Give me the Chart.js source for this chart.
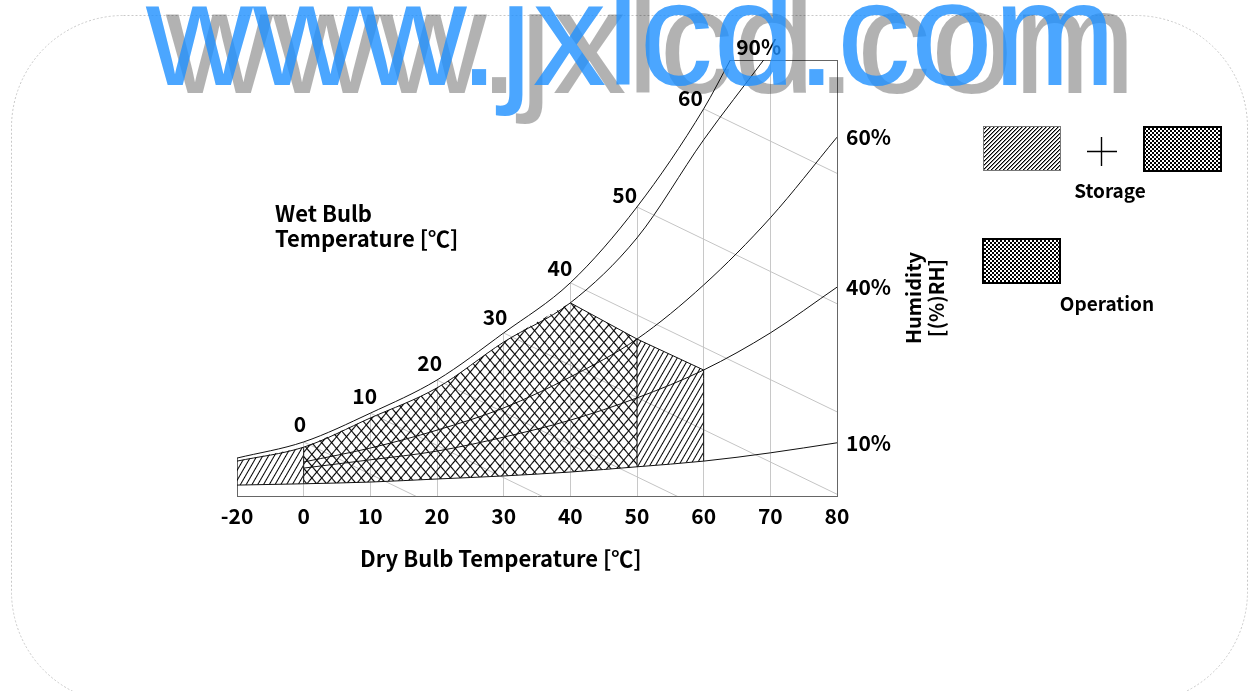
<!DOCTYPE html>
<html>
<head>
<meta charset="utf-8">
<script src="https://cdn.jsdelivr.net/npm/chart.js@4.4.1/dist/chart.umd.min.js"></script>
<style>
  html, body { margin: 0; background: #fff; }
  canvas { display: block; }
</style>
</head>
<body>
<canvas id="psy" width="1249" height="691"></canvas>
<script>
// dry bulb ticks [degC]; the -20..0 band is drawn squeezed into one 10 degree step
const dryBulbTicks = [-20, 0, 10, 20, 30, 40, 50, 60, 70, 80];

// humidity curves, on a 0..100 chart scale (bottom .. top of the plot)
const satTemps = [-20, 0, 10, 20, 30, 40, 50, 60, 64];
const rh100 = [8.7, 12.4, 19.0, 26.6, 37.4, 48.9, 66.3, 88.8, 100];
const rh90Temps = [-20, 0, 10, 20, 30, 40, 50, 60, 69];
const rh90 = [8.0, 11.2, 17.9, 24.8, 35.3, 44.3, 59.2, 81.7, 100];
const rhTemps = [0, 10, 20, 30, 40, 50, 60, 70, 80];
const rh60 = [7.8, 11.0, 15.1, 20.2, 27.3, 36.0, 48.4, 63.8, 82.3];
const rh40 = [6.4, 8.3, 10.3, 13.5, 17.4, 22.5, 28.9, 37.4, 47.9];
const rh10Temps = [-20, 0, 10, 20, 30, 40, 50, 60, 70, 80];
const rh10 = [2.5, 2.8, 3.2, 3.9, 4.6, 5.5, 6.7, 8.0, 9.9, 12.2];
const rhEndLabels = ['60%', '40%', '10%'];

// wet bulb lines start on the saturation curve
const wetBulbTemps = [0, 10, 20, 30, 40, 50, 60];
const wetBulbSlope = -0.74;   // chart units per degC

// zones: storage -20..60, operation 0..50, both capped by 90% up to 40 degC
const storageRange = [-20, 60];
const operationRange = [0, 50];
const zonePeak = 40;

const pos = t => (t < 0 ? t / 2 : t);
const pts = (temps, vals) => temps.map((t, i) => ({ x: pos(t), y: vals[i] }));
const at = (temps, vals, t) => vals[temps.indexOf(t)];

const canvas = document.getElementById('psy');
const ctx = canvas.getContext('2d');

function hatch(gap, matrix, crossed) {
  const c = document.createElement('canvas');
  c.width = c.height = gap;
  const g = c.getContext('2d');
  g.fillStyle = '#000';
  g.fillRect(0, 0, 1, gap);
  if (crossed) g.fillRect(0, 0, gap, 1);
  const p = ctx.createPattern(c, 'repeat');
  p.setTransform(matrix);
  return p;
}
function pixelTile(shade) {
  const c = document.createElement('canvas');
  c.width = c.height = 4;
  const g = c.getContext('2d');
  for (let x = 0; x < 4; x++) for (let y = 0; y < 4; y++) {
    g.fillStyle = shade(x, y);
    g.fillRect(x, y, 1, 1);
  }
  return ctx.createPattern(c, 'repeat');
}
const storageFill = hatch(5, new DOMMatrix().rotate(30), false);
const operationFill = hatch(7, new DOMMatrix().scale(1, 1.19).rotate(45), true);
const legendStripes = pixelTile((x, y) => ['#000', '#888', '#fff', '#fff'][(x + y) % 4]);
const legendChecker = pixelTile((x, y) => ((Math.floor(x / 2) + Math.floor(y / 2)) % 2 ? '#fff' : '#000'));

const peakY = at(rh90Temps, rh90, zonePeak);
const opEndY = at(rhTemps, rh60, operationRange[1]);
const stEndY = at(rhTemps, rh40, storageRange[1]);

const curve = (data, extra) => Object.assign({
  data, showLine: true, pointRadius: 0, borderColor: '#111', borderWidth: 1,
  cubicInterpolationMode: 'monotone', fill: false, order: 2
}, extra);

const datasets = [
  curve(pts(rh10Temps, rh10)),
  curve(pts(rhTemps, rh40)),
  curve(pts(rhTemps, rh60)),
  curve(pts(rh90Temps, rh90)),
  curve(pts(satTemps, rh100), { fill: 'end', backgroundColor: '#fff', order: 1 }),
  // storage only, left of operation
  curve([{ x: pos(storageRange[0]), y: rh90[0] }, { x: pos(operationRange[0]), y: at(rh90Temps, rh90, 0) }],
        { fill: 0, backgroundColor: storageFill, borderWidth: 0, order: 3 }),
  // operation, under 90% up to the peak
  curve(pts(rh90Temps.slice(1, 6), rh90.slice(1, 6)),
        { fill: 0, backgroundColor: operationFill, borderWidth: 0, order: 3 }),
  // operation, under the wet bulb edge
  curve([{ x: zonePeak, y: peakY }, { x: operationRange[1], y: opEndY }],
        { fill: 0, backgroundColor: operationFill, cubicInterpolationMode: 'default', order: 3 }),
  // storage only, right of operation
  curve([{ x: operationRange[1], y: opEndY }, { x: storageRange[1], y: stEndY }],
        { fill: 0, backgroundColor: storageFill, cubicInterpolationMode: 'default', order: 3 }),
  // zone edges
  curve([{ x: 0, y: at(rh10Temps, rh10, 0) }, { x: 0, y: at(rh90Temps, rh90, 0) }]),
  curve([{ x: operationRange[1], y: at(rh10Temps, rh10, operationRange[1]) }, { x: operationRange[1], y: opEndY }]),
  curve([{ x: storageRange[1], y: at(rh10Temps, rh10, storageRange[1]) }, { x: storageRange[1], y: stEndY }])
];
wetBulbTemps.forEach(t => {
  const y0 = at(satTemps, rh100, t);
  datasets.push(curve([{ x: t, y: y0 }, { x: t + 80, y: y0 + wetBulbSlope * 80 }],
    { borderColor: '#c4c4c4', order: 4, cubicInterpolationMode: 'default' }));
});

const FONT = '"Noto Sans CJK KR", "Noto Sans", sans-serif';
const tickFont = { family: FONT, size: 21, weight: '700' };

const decor = {
  id: 'decor',
  beforeDraw(chart) {
    const c = chart.ctx;
    c.save();
    c.strokeStyle = '#c8c8c8';
    c.lineWidth = 1;
    c.setLineDash([2, 2]);
    c.beginPath();
    c.roundRect(11.5, 15.5, 1236, 688, 112);
    c.stroke();
    c.restore();
  },
  afterDatasetsDraw(chart) {
    const c = chart.ctx;
    const xs = chart.scales.x, ys = chart.scales.y;
    const P = (t, v) => [xs.getPixelForValue(pos(t)), ys.getPixelForValue(v)];
    c.save();
    c.fillStyle = '#000';
    c.font = `700 21px ${FONT}`;
    c.textAlign = 'center';
    c.textBaseline = 'middle';
    // wet bulb labels, pushed off the saturation curve along its normal
    wetBulbTemps.forEach(t => {
      const i = satTemps.indexOf(t);
      const [x, y] = P(t, rh100[i]);
      const [xa, ya] = P(satTemps[Math.max(i - 1, 0)], rh100[Math.max(i - 1, 0)]);
      const [xb, yb] = P(satTemps[i + 1], rh100[i + 1]);
      let tx = xb - xa, ty = yb - ya;
      const L = Math.hypot(tx, ty); tx /= L; ty /= L;
      c.fillText(String(t), x + ty * 18 + 2, y - tx * 17 - 2);
    });
    const [x90, y90] = P(rh90Temps.at(-1), rh90.at(-1));
    c.fillText('90%', x90 - 5, y90 - 13);

    c.textAlign = 'left';
    c.textBaseline = 'alphabetic';
    c.font = `700 22px ${FONT}`;
    c.fillText('Wet Bulb', 275, 222);
    c.fillText('Temperature [℃]', 275, 247);
    c.fillText('Dry Bulb Temperature [℃]', 360, 567);

    c.save();
    c.font = `700 20px ${FONT}`;
    c.translate(921, 298);
    c.rotate(-Math.PI / 2);
    c.textAlign = 'center';
    c.fillText('Humidity', 0, 0);
    c.fillText('[(%)RH]', 0, 23);
    c.restore();

    // legend
    const box = (x, y, pat, lw, col) => {
      c.fillStyle = pat;
      c.fillRect(x, y, 77, 44);
      c.lineWidth = lw;
      c.strokeStyle = col;
      c.strokeRect(x, y, 77, 44);
    };
    box(983.5, 126.5, legendStripes, 1, '#777');
    box(1144, 127, legendChecker, 2, '#000');
    box(983, 239, legendChecker, 2, '#000');
    c.strokeStyle = '#000';
    c.lineWidth = 1.4;
    c.beginPath();
    c.moveTo(1087, 151.5); c.lineTo(1117, 151.5);
    c.moveTo(1101.5, 137); c.lineTo(1101.5, 166);
    c.stroke();
    c.fillStyle = '#000';
    c.textAlign = 'center';
    c.font = `700 19px ${FONT}`;
    c.fillText('Storage', 1110, 198);
    c.fillText('Operation', 1107, 311);
    c.restore();
  },
  afterDraw(chart) {
    const c = chart.ctx;
    c.save();
    c.font = '148px "Liberation Sans", Arial, sans-serif';
    c.textBaseline = 'alphabetic';
    c.fillStyle = 'rgba(0,0,0,0.3)';
    c.fillText('www.jxlcd.com', 166, 93);
    c.fillStyle = 'rgba(30,144,255,0.8)';
    c.fillText('www.jxlcd.com', 146, 85);
    c.restore();
  }
};

const rhEnds = [rh60.at(-1), rh40.at(-1), rh10.at(-1)];

new Chart(ctx, {
  type: 'scatter',
  data: { datasets },
  options: {
    responsive: false,
    animation: false,
    events: [],
    layout: { padding: { left: 237, right: 342, top: 60, bottom: 155 } },
    plugins: { legend: { display: false }, tooltip: { enabled: false } },
    scales: {
      x: {
        type: 'linear', position: 'bottom',
        min: pos(dryBulbTicks[0]), max: pos(dryBulbTicks.at(-1)),
        afterBuildTicks: s => { s.ticks = dryBulbTicks.map(t => ({ value: pos(t) })); },
        ticks: {
          callback: (v, i) => String(dryBulbTicks[i]),
          font: tickFont, color: '#000', padding: 7, autoSkip: false, maxRotation: 0
        },
        grid: { color: '#c8c8c8', drawTicks: false },
        border: { color: '#666' },
        afterFit: s => { s.height = 40; }
      },
      x2: {
        type: 'linear', position: 'top', axis: 'x',
        min: pos(dryBulbTicks[0]), max: pos(dryBulbTicks.at(-1)),
        ticks: { display: false }, grid: { display: false, drawTicks: false },
        border: { color: '#666' },
        afterFit: s => { s.height = 0; }
      },
      y: {
        type: 'linear', position: 'left', min: 0, max: 100,
        ticks: { display: false }, grid: { display: false, drawTicks: false },
        border: { color: '#666' },
        afterFit: s => { s.width = 0; }
      },
      y2: {
        type: 'linear', position: 'right', axis: 'y', min: 0, max: 100,
        afterBuildTicks: s => { s.ticks = rhEnds.map(v => ({ value: v })); },
        ticks: {
          callback: (v, i) => rhEndLabels[i],
          font: tickFont, color: '#000', padding: 9, autoSkip: false
        },
        grid: { display: false, drawTicks: false },
        border: { color: '#666' },
        afterFit: s => { s.width = 70; }
      }
    }
  },
  plugins: [decor]
});
</script>
</body>
</html>
